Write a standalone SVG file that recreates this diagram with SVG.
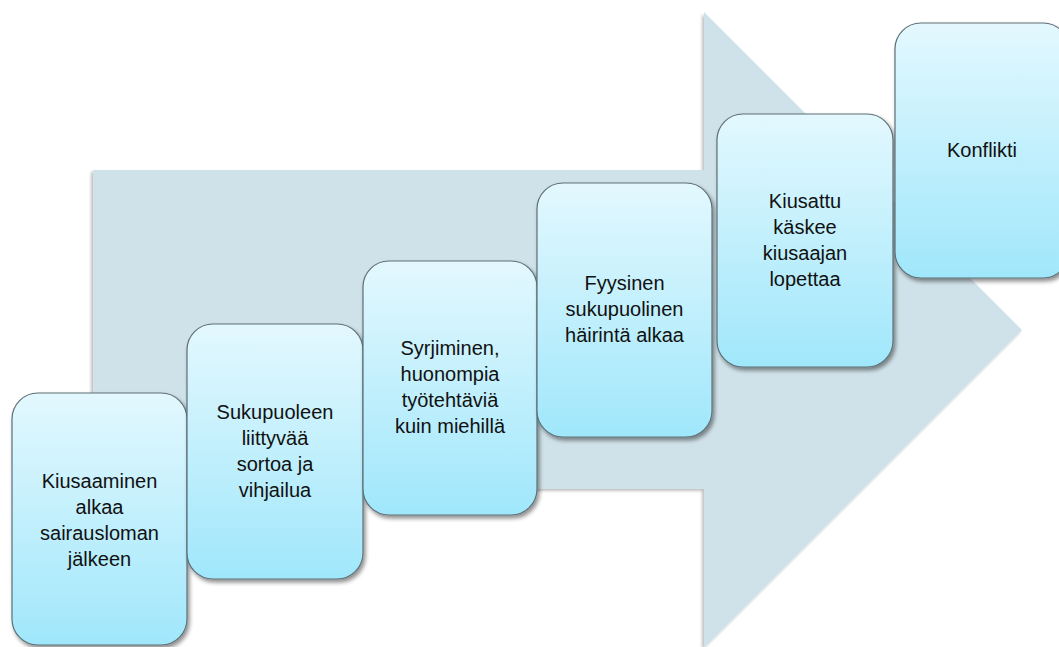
<svg xmlns="http://www.w3.org/2000/svg" width="1059" height="647" viewBox="0 0 1059 647">
  <defs>
    <linearGradient id="boxGrad" x1="0" y1="0" x2="0" y2="1">
      <stop offset="0" stop-color="#E3F8FE"/>
      <stop offset="1" stop-color="#A0E7FB"/>
    </linearGradient>
    <filter id="shadow" x="-10%" y="-10%" width="130%" height="130%">
      <feGaussianBlur in="SourceAlpha" stdDeviation="2"/>
      <feOffset dx="1.5" dy="2.5" result="b"/>
      <feComponentTransfer><feFuncA type="linear" slope="0.45"/></feComponentTransfer>
      <feMerge><feMergeNode/><feMergeNode in="SourceGraphic"/></feMerge>
    </filter>
    <filter id="arrowShadow" x="-5%" y="-5%" width="110%" height="110%">
      <feGaussianBlur in="SourceAlpha" stdDeviation="1.5"/>
      <feOffset dx="-2" dy="2"/>
      <feComponentTransfer><feFuncA type="linear" slope="0.25"/></feComponentTransfer>
      <feMerge><feMergeNode/><feMergeNode in="SourceGraphic"/></feMerge>
    </filter>
  </defs>
  <style>
    .box { fill: url(#boxGrad); stroke: #5E7077; stroke-width: 1.2; filter: url(#shadow); }
    .lbl { font-family: "Liberation Sans", Arial, sans-serif; font-size: 20px; fill: #111; text-anchor: middle; }
  </style>
  <rect width="1059" height="647" fill="#FFFFFF"/>
  <g id="arrow">
    <polygon points="93,170 704,170 704,12 1022,330 704,648 704,489 93,489" fill="#D0E2E9" filter="url(#arrowShadow)"/>
  </g>
  <g id="connectors"></g>
  <g id="node1">
    <rect class="box" x="12" y="393" width="175" height="252" rx="26"/>
    <text class="lbl"><tspan x="99.5" y="488">Kiusaaminen</tspan><tspan x="99.5" y="514">alkaa</tspan><tspan x="99.5" y="540">sairausloman</tspan><tspan x="99.5" y="566">jälkeen</tspan></text>
  </g>
  <g id="node2">
    <rect class="box" x="187" y="324" width="176" height="255" rx="26"/>
    <text class="lbl"><tspan x="275" y="419">Sukupuoleen</tspan><tspan x="275" y="445">liittyvää</tspan><tspan x="275" y="471">sortoa ja</tspan><tspan x="275" y="497">vihjailua</tspan></text>
  </g>
  <g id="node3">
    <rect class="box" x="363" y="261" width="174" height="254" rx="26"/>
    <text class="lbl"><tspan x="450" y="355">Syrjiminen,</tspan><tspan x="450" y="381">huonompia</tspan><tspan x="450" y="407">työtehtäviä</tspan><tspan x="450" y="433">kuin miehillä</tspan></text>
  </g>
  <g id="node4">
    <rect class="box" x="537" y="183" width="175" height="254" rx="26"/>
    <text class="lbl"><tspan x="624.5" y="290">Fyysinen</tspan><tspan x="624.5" y="316">sukupuolinen</tspan><tspan x="624.5" y="342">häirintä alkaa</tspan></text>
  </g>
  <g id="node5">
    <rect class="box" x="717" y="114" width="176" height="253" rx="26"/>
    <text class="lbl"><tspan x="805" y="208">Kiusattu</tspan><tspan x="805" y="234">käskee</tspan><tspan x="805" y="260">kiusaajan</tspan><tspan x="805" y="286">lopettaa</tspan></text>
  </g>
  <g id="node6">
    <rect class="box" x="895" y="23" width="174" height="255" rx="26"/>
    <text class="lbl"><tspan x="982" y="157">Konflikti</tspan></text>
  </g>
</svg>
